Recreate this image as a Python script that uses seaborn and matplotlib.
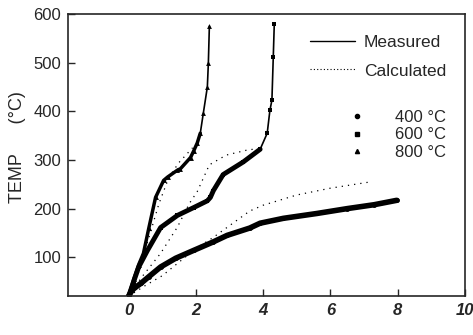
import matplotlib
matplotlib.use("Agg")
import matplotlib.pyplot as plt
import seaborn as sns
import pandas as pd
from matplotlib.lines import Line2D

sns.set_style("ticks")
plt.rcParams['font.family'] = ['Liberation Sans', 'DejaVu Sans']

# Measured curves
m400_x = [0.0, 0.1, 0.2, 0.36, 0.6, 0.95, 1.4, 1.93, 2.5, 2.93, 3.6, 3.91, 4.6, 5.6, 6.5, 7.3, 7.97]
m400_y = [20, 32, 38, 46, 60, 80, 98, 114, 131, 145, 160, 170, 180, 190, 200, 208, 217]
m600_x = [0.0, 0.15, 0.3, 0.56, 0.95, 1.45, 1.93, 2.34, 2.43, 2.52, 2.81, 3.41, 3.91, 4.12, 4.2, 4.26, 4.30, 4.33]
m600_y = [20, 50, 80, 114, 161, 186, 202, 216, 223, 237, 270, 296, 322, 355, 402, 423, 511, 579]
m800_x = [0.0, 0.15, 0.3, 0.44, 0.6, 0.8, 1.04, 1.16, 1.45, 1.54, 1.84, 1.93, 2.04, 2.13, 2.22, 2.34, 2.37, 2.40]
m800_y = [20, 55, 85, 108, 160, 223, 258, 265, 279, 282, 305, 318, 335, 355, 396, 450, 499, 575]
n_dense = [17, 13, 14]

# Calculated curves
c400_x = [0.0, 0.5, 1.0, 1.5, 2.0, 2.5, 3.0, 3.6, 4.0, 5.0, 6.0, 7.2]
c400_y = [20, 42, 62, 90, 118, 140, 165, 195, 207, 228, 242, 255]
c600_x = [0.0, 0.4, 0.95, 1.45, 1.8, 2.04, 2.4, 2.9, 3.5, 3.8]
c600_y = [20, 60, 108, 162, 210, 235, 290, 310, 320, 323]
c800_x = [0.0, 0.3, 0.6, 0.9, 1.2, 1.5, 1.9]
c800_y = [20, 70, 140, 210, 265, 295, 325]

labels = ["400 \u00b0C", "600 \u00b0C", "800 \u00b0C"]
markers = ["o", "s", "^"]
dense_lw = [4.0, 3.5, 2.5]

fig, ax = plt.subplots(figsize=(4.73, 3.35), dpi=100)
fig.subplots_adjust(left=0.144, right=0.983, top=0.958, bottom=0.116)

measured = [(m400_x, m400_y), (m600_x, m600_y), (m800_x, m800_y)]
calc = [(c400_x, c400_y), (c600_x, c600_y), (c800_x, c800_y)]

for (mx, my), (cx, cy), mk, nd, dlw in zip(measured, calc, markers, n_dense, dense_lw):
    df = pd.DataFrame({"x": mx, "y": my})
    sns.lineplot(data=df, x="x", y="y", ax=ax, color="black", lw=1.2,
                 marker=mk, markersize=3.5, markeredgewidth=0, sort=False)
    dd = df.iloc[:nd]
    sns.lineplot(data=dd, x="x", y="y", ax=ax, color="black", lw=dlw, sort=False)
    dc = pd.DataFrame({"x": cx, "y": cy})
    sns.lineplot(data=dc, x="x", y="y", ax=ax, color="black", lw=0.9,
                 linestyle=(0, (1, 4)), sort=False)

ax.set_xlim(-1.8, 10)
ax.set_ylim(20, 600)
ax.set_xticks([0, 2, 4, 6, 8, 10])
ax.set_xticklabels(["0", "2", "4", "6", "8", "10"], fontstyle="italic",
                   fontweight="bold", fontsize=12)
ax.set_yticks([100, 200, 300, 400, 500, 600])
ax.set_yticklabels(["100", "200", "300", "400", "500", "600"], fontsize=12)
ax.tick_params(direction="in", length=5, width=1, pad=5)
ax.set_xlabel("")
ax.set_ylabel("TEMP      (\u00b0C)", fontsize=13)
ax.yaxis.set_label_coords(-0.105, 0.53)
for s in ax.spines.values():
    s.set_linewidth(1.2)

h1 = [Line2D([], [], color="black", lw=1),
      Line2D([], [], color="black", lw=0.8, linestyle=(0, (1, 2)))]
leg1 = ax.legend(h1, ["Measured", "Calculated"], loc="upper left",
                 bbox_to_anchor=(0.61, 0.925), frameon=False, fontsize=12.5,
                 handlelength=2.6, labelspacing=0.75, handletextpad=0.5,
                 borderpad=0, borderaxespad=0)
ax.add_artist(leg1)
h2 = [Line2D([], [], color="black", lw=0, marker=m, markersize=3) for m in markers]
ax.legend(h2, labels, loc="upper left", bbox_to_anchor=(0.715, 0.66),
          frameon=False, fontsize=12, handlelength=0.6, labelspacing=0.15,
          handletextpad=2.0, borderpad=0, borderaxespad=0)

fig.savefig("out.png", dpi=100)
